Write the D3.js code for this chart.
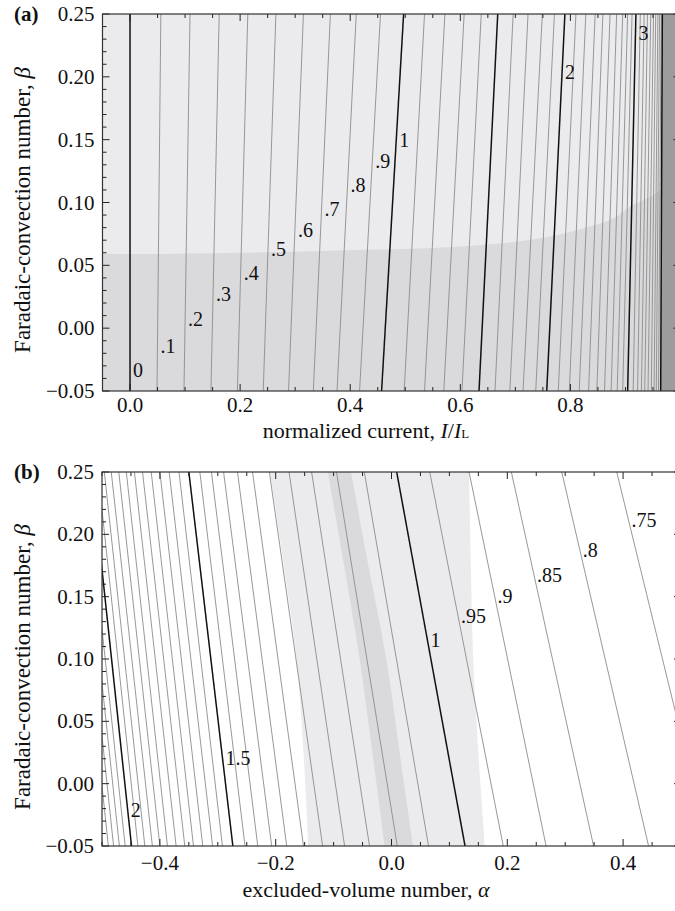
<!DOCTYPE html>
<html>
<head>
<meta charset="utf-8">
<script src="https://cdn.jsdelivr.net/npm/d3@7"></script>
<style>
  body { margin: 0; background: #fff; }
  svg text { font-family: "Liberation Serif", "Times New Roman", serif; fill: #111; }
</style>
</head>
<body>
<svg id="chart" width="675" height="911"></svg>
<script>
// ---------- Panel (a): contours of potential vs normalized current I/IL and beta ----------
const levelsA = [0,0.1,0.2,0.3,0.4,0.5,0.6,0.7,0.8,0.9,1,1.1,1.2,1.3,1.4,1.5,1.6,1.7,1.8,1.9,2,
  2.1,2.2,2.3,2.4,2.5,2.6,2.7,2.8,2.9,3,3.1,3.2,3.3,3.4,3.5,3.6,3.7,3.8,3.9,4];
// current at which each contour crosses beta = 0.25 (top) and beta = -0.05 (bottom)
const topA = [0,0.056,0.109,0.162,0.214,0.265,0.315,0.364,0.411,0.455,0.497,0.535,0.572,0.607,0.638,0.668,0.696,0.723,0.749,0.771,0.790,
  0.810,0.828,0.845,0.859,0.872,0.884,0.895,0.904,0.912,0.919,0.927,0.934,0.940,0.946,0.951,0.955,0.959,0.962,0.965,0.967];
const botA = [0,0.049,0.098,0.147,0.195,0.242,0.288,0.333,0.376,0.417,0.457,0.498,0.535,0.570,0.603,0.634,0.663,0.690,0.714,0.737,0.757,
  0.778,0.798,0.816,0.833,0.848,0.862,0.874,0.885,0.895,0.904,0.914,0.922,0.929,0.935,0.941,0.947,0.952,0.956,0.960,0.964];
// edge of the lower (darker) region
const regionA_I = [-0.05,0,0.2,0.4,0.6,0.75,0.82,0.88,0.91,0.95,0.97,1.0];
const regionA_B = [0.059,0.059,0.060,0.062,0.065,0.072,0.079,0.088,0.097,0.106,0.112,0.125];
// contour labels: text, level, beta where the label sits
const labelsA = [["0",0,-0.033],[".1",0.1,-0.014],[".2",0.2,0.007],[".3",0.3,0.027],[".4",0.4,0.044],
  [".5",0.5,0.063],[".6",0.6,0.078],[".7",0.7,0.095],[".8",0.8,0.114],[".9",0.9,0.133],
  ["1",1,0.150],["2",2,0.2035],["3",3,0.2345]];
const xTicksA = [0,0.2,0.4,0.6,0.8];
const xTickLabelsA = ["0.0","0.2","0.4","0.6","0.8"];

// ---------- Panel (b): contours vs excluded-volume number alpha and beta ----------
const levelsB = [2.208,2.167,2.125,2.083,2.042,2,
  1.958,1.917,1.875,1.833,1.792,1.75,1.708,1.667,1.625,1.583,1.542,1.5,
  1.455,1.409,1.364,1.318,1.273,1.227,1.182,1.136,1.091,1.045,1,
  0.95,0.9,0.85,0.8,0.75];
// alpha at which each contour crosses beta = 0.25 (top) and beta = -0.05 (bottom)
const topB = [-0.567,-0.558,-0.548,-0.539,-0.529,-0.518,
  -0.507,-0.496,-0.484,-0.471,-0.458,-0.444,-0.430,-0.415,-0.400,-0.384,-0.367,-0.350,
  -0.331,-0.311,-0.290,-0.266,-0.240,-0.211,-0.177,-0.138,-0.095,-0.047,0.009,
  0.066,0.134,0.207,0.294,0.389];
const botB = [-0.499,-0.489,-0.480,-0.470,-0.460,-0.449,
  -0.438,-0.426,-0.413,-0.400,-0.387,-0.372,-0.357,-0.342,-0.326,-0.309,-0.292,-0.274,
  -0.253,-0.231,-0.207,-0.181,-0.152,-0.119,-0.081,-0.038,0.010,0.064,0.127,
  0.193,0.267,0.349,0.444,0.547];
// shaded bands: alpha of the band edges at several beta values
const bandBeta  = [0.25,0.175,0.10,0.025,-0.05];
const lightLeft = [-0.210,-0.186,-0.164,-0.152,-0.144];
const lightRight= [0.134,0.137,0.141,0.150,0.161];
const darkLeft  = [-0.110,-0.082,-0.055,-0.033,-0.012];
const darkRight = [-0.070,-0.040,-0.009,0.014,0.037];
const labelsB = [["2",2,-0.0215],["1.5",1.5,0.0206],["1",1,0.1152],[".95",0.95,0.1341],[".9",0.9,0.1509],
  [".85",0.85,0.1677],[".8",0.8,0.1874],[".75",0.75,0.2111]];
const xTicksB = [-0.4,-0.2,0,0.2,0.4];
const xTickLabelsB = ["\u22120.4","\u22120.2","0.0","0.2","0.4"];

const yTicks = [-0.05,0,0.05,0.10,0.15,0.20,0.25];
const yTickLabels = ["\u22120.05","0.00","0.05","0.10","0.15","0.20","0.25"];

const svg = d3.select("#chart");
const COLOR_LIGHT = "#ebebed", COLOR_DARK = "#dadadc", COLOR_EDGE = "#9c9c9c";
const GRAY_LINE = "#8c8c8c", BLACK_LINE = "#111";
const TICK_FONT = 21;

function isMajor(v) { return Math.abs(v - Math.round(v)) < 1e-9 || Math.abs(v - 1.5) < 1e-9; }

function drawFrame(g, x, y, xTicks, xLabels, minorStep, labelGap) {
  const [x0, x1] = x.range(), [yb, yt] = y.range();
  const xd = x.domain();
  const minors = d3.range(Math.ceil(xd[0]/minorStep - 1e-9), Math.floor(xd[1]/minorStep + 1e-9) + 1).map(k => k*minorStep);
  minors.forEach(v => {
    const major = Math.abs(v*5 - Math.round(v*5)) < 1e-9;
    const len = major ? 7 : 4;
    const px = x(v);
    g.append("line").attr("x1", px).attr("x2", px).attr("y1", yb).attr("y2", yb - len).attr("stroke", "#222").attr("stroke-width", 1);
    g.append("line").attr("x1", px).attr("x2", px).attr("y1", yt).attr("y2", yt + len).attr("stroke", "#222").attr("stroke-width", 1);
  });
  const yMinors = d3.range(-5, 26).map(k => k/100);
  yMinors.forEach(v => {
    const major = Math.abs(v*20 - Math.round(v*20)) < 1e-9;
    const len = major ? 7 : 4;
    const py = y(v);
    g.append("line").attr("x1", x0).attr("x2", x0 + len).attr("y1", py).attr("y2", py).attr("stroke", "#222").attr("stroke-width", 1);
    g.append("line").attr("x1", x1).attr("x2", x1 - len).attr("y1", py).attr("y2", py).attr("stroke", "#222").attr("stroke-width", 1);
  });
  g.append("rect").attr("x", x0).attr("y", yt).attr("width", x1 - x0).attr("height", yb - yt)
    .attr("fill", "none").attr("stroke", "#333").attr("stroke-width", 1.2);
  xTicks.forEach((v, i) => {
    g.append("text").attr("x", x(v)).attr("y", yb + labelGap).attr("text-anchor", "middle")
      .attr("font-size", TICK_FONT).text(xLabels[i]);
  });
  yTicks.forEach((v, i) => {
    g.append("text").attr("x", x0 - 8).attr("y", y(v) + 7).attr("text-anchor", "end")
      .attr("font-size", TICK_FONT).text(yTickLabels[i]);
  });
}

function contourLines(g, x, y, levels, tops, bots) {
  const line = d3.line().x(d => x(d[0])).y(d => y(d[1]));
  levels.forEach((lv, i) => {
    const major = isMajor(lv);
    g.append("path").attr("d", line([[tops[i], 0.25], [bots[i], -0.05]]))
      .attr("fill", "none").attr("stroke", major ? BLACK_LINE : GRAY_LINE)
      .attr("stroke-width", major ? 1.5 : 0.9);
  });
}

function contourLabels(g, x, y, labels, levels, tops, bots) {
  labels.forEach(([txt, lv, b]) => {
    const i = levels.findIndex(v => Math.abs(v - lv) < 1e-9);
    const t = (0.25 - b) / 0.30;
    const a = tops[i] + (bots[i] - tops[i]) * t;
    g.append("text").attr("x", x(a) + 3).attr("y", y(b) + 7).attr("font-size", 20).text(txt);
  });
}

// ---------- panel (a) ----------
{
  const x = d3.scaleLinear().domain([-0.05, 1.0]).range([102.5, 680.5]);
  const y = d3.scaleLinear().domain([-0.05, 0.25]).range([391, 14]);
  const g = svg.append("g");
  g.append("clipPath").attr("id", "clipA").append("rect")
    .attr("x", 102.5).attr("y", 14).attr("width", 578).attr("height", 377);
  const p = g.append("g").attr("clip-path", "url(#clipA)");
  p.append("rect").attr("x", 102.5).attr("y", 14).attr("width", 578).attr("height", 377).attr("fill", COLOR_LIGHT);
  const area = d3.area().x(d => x(d[0])).y0(y(-0.05)).y1(d => y(d[1])).curve(d3.curveMonotoneX);
  p.append("path").attr("d", area(regionA_I.map((v, i) => [v, regionA_B[i]]))).attr("fill", COLOR_DARK);
  // the crowded contours above level 4 merge into a solid band
  const last = levelsA.length - 1;
  p.append("path").attr("d", d3.line()([[x(topA[last]), y(0.25)], [x(1.0), y(0.25)], [x(1.0), y(-0.05)], [x(botA[last]), y(-0.05)]]) + "Z")
    .attr("fill", COLOR_EDGE);
  contourLines(p, x, y, levelsA, topA, botA);
  contourLabels(g, x, y, labelsA, levelsA, topA, botA);
  drawFrame(g, x, y, xTicksA, xTickLabelsA, 0.05, 21);
  g.append("text").attr("x", 14).attr("y", 21).attr("font-size", 21).attr("font-weight", "bold").text("(a)");
  const xt = g.append("text").attr("x", 366).attr("y", 438).attr("text-anchor", "middle").attr("font-size", 22);
  xt.append("tspan").text("normalized current, ");
  xt.append("tspan").attr("font-style", "italic").text("I");
  xt.append("tspan").text("/");
  xt.append("tspan").attr("font-style", "italic").text("I");
  xt.append("tspan").attr("font-size", 13).text("L");
  const yt = g.append("text").attr("transform", "translate(30,210) rotate(-90)").attr("text-anchor", "middle").attr("font-size", 23);
  yt.append("tspan").text("Faradaic-convection number, ");
  yt.append("tspan").attr("font-style", "italic").text("\u03b2");
}

// ---------- panel (b) ----------
{
  const x = d3.scaleLinear().domain([-0.5, 0.5]).range([102, 681]);
  const y = d3.scaleLinear().domain([-0.05, 0.25]).range([846, 472]);
  const g = svg.append("g");
  g.append("clipPath").attr("id", "clipB").append("rect")
    .attr("x", 102).attr("y", 472).attr("width", 579).attr("height", 374);
  const p = g.append("g").attr("clip-path", "url(#clipB)");
  const band = d3.area().y(d => y(d[0])).x0(d => x(d[1])).x1(d => x(d[2])).curve(d3.curveMonotoneY);
  p.append("path").attr("d", band(bandBeta.map((b, i) => [b, lightLeft[i], lightRight[i]]))).attr("fill", COLOR_LIGHT);
  p.append("path").attr("d", band(bandBeta.map((b, i) => [b, darkLeft[i], darkRight[i]]))).attr("fill", COLOR_DARK);
  contourLines(p, x, y, levelsB, topB, botB);
  contourLabels(g, x, y, labelsB, levelsB, topB, botB);
  drawFrame(g, x, y, xTicksB, xTickLabelsB, 0.05, 24);
  g.append("text").attr("x", 14).attr("y", 479).attr("font-size", 21).attr("font-weight", "bold").text("(b)");
  const xt = g.append("text").attr("x", 366).attr("y", 897).attr("text-anchor", "middle").attr("font-size", 22);
  xt.append("tspan").text("excluded-volume number, ");
  xt.append("tspan").attr("font-style", "italic").text("\u03b1");
  const yt = g.append("text").attr("transform", "translate(30,667) rotate(-90)").attr("text-anchor", "middle").attr("font-size", 23);
  yt.append("tspan").text("Faradaic-convection number, ");
  yt.append("tspan").attr("font-style", "italic").text("\u03b2");
}
</script>
</body>
</html>
